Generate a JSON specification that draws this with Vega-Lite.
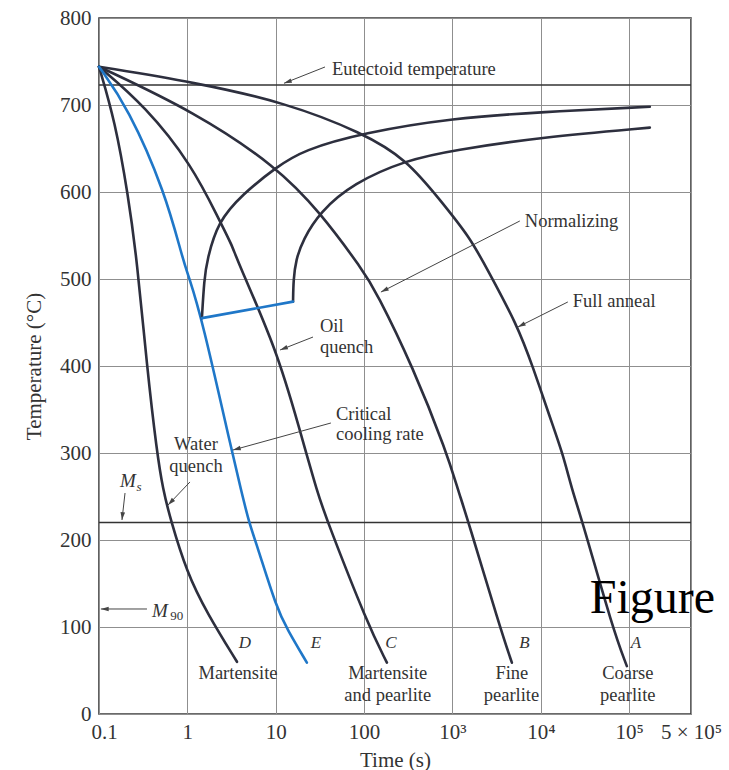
{
  "$schema": "https://vega.github.io/schema/vega-lite/v6.json",
  "width": 592,
  "height": 696,
  "autosize": {"type": "none"},
  "padding": {"left": 99, "top": 18, "right": 38, "bottom": 56},
  "background": "white",
  "config": {
    "view": {"stroke": "#3a3a3a", "strokeWidth": 1.6},
    "axis": {
      "ticks": false,
      "tickSize": 0,
      "domain": false,
      "grid": true,
      "gridColor": "#8f8f8f",
      "gridWidth": 1,
      "labelFont": "Liberation Serif",
      "labelFontSize": 21,
      "labelColor": "#333333",
      "titleFont": "Liberation Serif",
      "titleFontSize": 21,
      "titleFontWeight": "normal",
      "titleColor": "#333333"
    },
    "text": {"font": "Liberation Serif", "fill": "#333333"}
  },
  "layer": [
    {
      "description": "Eutectoid temperature and martensite start (Ms) lines",
      "data": {"values": [
        {"name": "Eutectoid", "T": 723},
        {"name": "Ms", "T": 220}
      ]},
      "mark": {"type": "rule", "color": "#333333", "strokeWidth": 1.5},
      "encoding": {
        "y": {
          "field": "T", "type": "quantitative",
          "scale": {"domain": [0, 800], "nice": false},
          "title": "Temperature (°C)",
          "axis": {
            "values": [0, 100, 200, 300, 400, 500, 600, 700, 800],
            "labelPadding": 8,
            "titleX": -65,
            "titleY": 348,
            "titleAngle": 270,
            "titleBaseline": "middle"
          }
        }
      }
    },
    {
      "description": "Cooling curves A-E",
      "data": {"values": [
        {"curve": "A", "t": 0.1, "T": 744},
        {"curve": "A", "t": 1.22, "T": 726},
        {"curve": "A", "t": 12.7, "T": 703},
        {"curve": "A", "t": 96.9, "T": 668},
        {"curve": "A", "t": 305, "T": 637},
        {"curve": "A", "t": 720, "T": 591},
        {"curve": "A", "t": 1574, "T": 548},
        {"curve": "A", "t": 2512, "T": 510},
        {"curve": "A", "t": 5354, "T": 448},
        {"curve": "A", "t": 8128, "T": 399},
        {"curve": "A", "t": 12650, "T": 341},
        {"curve": "A", "t": 17750, "T": 299},
        {"curve": "A", "t": 22440, "T": 258},
        {"curve": "A", "t": 29850, "T": 220},
        {"curve": "A", "t": 65200, "T": 98},
        {"curve": "A", "t": 93970, "T": 55},

        {"curve": "B", "t": 0.1, "T": 744},
        {"curve": "B", "t": 1.22, "T": 692},
        {"curve": "B", "t": 10.3, "T": 629},
        {"curve": "B", "t": 31.6, "T": 577},
        {"curve": "B", "t": 96.9, "T": 510},
        {"curve": "B", "t": 136, "T": 486},
        {"curve": "B", "t": 357, "T": 399},
        {"curve": "B", "t": 865, "T": 300},
        {"curve": "B", "t": 1151, "T": 258},
        {"curve": "B", "t": 1493, "T": 223},
        {"curve": "B", "t": 3436, "T": 100},
        {"curve": "B", "t": 4699, "T": 59},

        {"curve": "C", "t": 0.1, "T": 744},
        {"curve": "C", "t": 0.331, "T": 699},
        {"curve": "C", "t": 1.13, "T": 631},
        {"curve": "C", "t": 2.34, "T": 566},
        {"curve": "C", "t": 3.2, "T": 539},
        {"curve": "C", "t": 3.64, "T": 522},
        {"curve": "C", "t": 10.3, "T": 418},
        {"curve": "C", "t": 18.3, "T": 330},
        {"curve": "C", "t": 30, "T": 252},
        {"curve": "C", "t": 38.9, "T": 220},
        {"curve": "C", "t": 108, "T": 105},
        {"curve": "C", "t": 181, "T": 59},

        {"curve": "D", "t": 0.1, "T": 744},
        {"curve": "D", "t": 0.152, "T": 681},
        {"curve": "D", "t": 0.213, "T": 597},
        {"curve": "D", "t": 0.269, "T": 522},
        {"curve": "D", "t": 0.349, "T": 399},
        {"curve": "D", "t": 0.453, "T": 300},
        {"curve": "D", "t": 0.53, "T": 258},
        {"curve": "D", "t": 0.635, "T": 226},
        {"curve": "D", "t": 0.99, "T": 162},
        {"curve": "D", "t": 1.67, "T": 116},
        {"curve": "D", "t": 3.64, "T": 60},

        {"curve": "E", "t": 0.1, "T": 744},
        {"curve": "E", "t": 0.213, "T": 697},
        {"curve": "E", "t": 0.559, "T": 600},
        {"curve": "E", "t": 0.891, "T": 522},
        {"curve": "E", "t": 1.02, "T": 505},
        {"curve": "E", "t": 1.46, "T": 455},
        {"curve": "E", "t": 3.2, "T": 301},
        {"curve": "E", "t": 4.04, "T": 258},
        {"curve": "E", "t": 4.98, "T": 220},
        {"curve": "E", "t": 6.13, "T": 194},
        {"curve": "E", "t": 10.3, "T": 121},
        {"curve": "E", "t": 13.4, "T": 98},
        {"curve": "E", "t": 22.5, "T": 59}
      ]},
      "mark": {"type": "line", "strokeWidth": 2.6, "interpolate": "basis", "strokeCap": "round"},
      "encoding": {
        "x": {
          "field": "t", "type": "quantitative",
          "scale": {"type": "log", "domain": [0.1, 500000], "nice": false},
          "title": "Time (s)",
          "axis": {
            "values": [0.1, 1, 10, 100, 1000, 10000, 100000, 500000],
            "labelExpr": "datum.value == 0.1 ? '0.1' : datum.value == 1 ? '1' : datum.value == 10 ? '10' : datum.value == 100 ? '100' : datum.value == 1000 ? '10³' : datum.value == 10000 ? '10⁴' : datum.value == 100000 ? '10⁵' : '5 × 10⁵'",
            "labelFlush": false,
            "labelOverlap": false,
            "labelBaseline": "alphabetic",
            "labelPadding": 24,
            "labelOffset": {"condition": {"test": "datum.value < 0.5", "value": 5}, "value": 0},
            "titleBaseline": "alphabetic",
            "titleY": 52
          }
        },
        "y": {"field": "T", "type": "quantitative", "title": "Temperature (°C)"},
        "color": {
          "field": "curve", "type": "nominal", "legend": null,
          "scale": {
            "domain": ["A", "B", "C", "D", "E", "Ps", "Pf", "Nose"],
            "range": ["#2d2f3e", "#2d2f3e", "#2d2f3e", "#2d2f3e", "#1f77c8", "#2d2f3e", "#2d2f3e", "#1f77c8"]
          }
        }
      }
    },
    {
      "description": "Pearlite start / finish boundaries and the nose segment joining them",
      "data": {"values": [
        {"curve": "Ps", "t": 1.46, "T": 455},
        {"curve": "Ps", "t": 1.55, "T": 499},
        {"curve": "Ps", "t": 1.67, "T": 522},
        {"curve": "Ps", "t": 2.22, "T": 566},
        {"curve": "Ps", "t": 4.15, "T": 597},
        {"curve": "Ps", "t": 10.3, "T": 629},
        {"curve": "Ps", "t": 20.3, "T": 648},
        {"curve": "Ps", "t": 96.9, "T": 668},
        {"curve": "Ps", "t": 1011, "T": 685},
        {"curve": "Ps", "t": 10260, "T": 692},
        {"curve": "Ps", "t": 171000, "T": 698},

        {"curve": "Pf", "t": 15.7, "T": 474},
        {"curve": "Pf", "t": 15.85, "T": 499},
        {"curve": "Pf", "t": 16.9, "T": 522},
        {"curve": "Pf", "t": 20.3, "T": 545},
        {"curve": "Pf", "t": 31.6, "T": 577},
        {"curve": "Pf", "t": 74.7, "T": 610},
        {"curve": "Pf", "t": 305, "T": 637},
        {"curve": "Pf", "t": 1011, "T": 648},
        {"curve": "Pf", "t": 10260, "T": 663},
        {"curve": "Pf", "t": 171000, "T": 674},

        {"curve": "Nose", "t": 1.46, "T": 455},
        {"curve": "Nose", "t": 15.7, "T": 474}
      ]},
      "mark": {"type": "line", "strokeWidth": 2.6, "interpolate": "basis", "strokeCap": "round"},
      "encoding": {
        "x": {"field": "t", "type": "quantitative", "title": "Time (s)"},
        "y": {"field": "T", "type": "quantitative", "title": "Temperature (°C)"},
        "color": {"field": "curve", "type": "nominal", "legend": null}
      }
    },
    {
      "description": "Leader lines from the notes to the curves",
      "data": {"name": "leaders", "values": [
        {"note": "Eutectoid temperature", "t": 36.1, "T": 743.7, "t2": 12.4, "T2": 725, "heading": 250},
        {"note": "Normalizing", "t": 5780, "T": 566.7, "t2": 155, "T2": 485, "heading": 243},
        {"note": "Full anneal", "t": 20200, "T": 473.6, "t2": 5495, "T2": 444.8, "heading": 243},
        {"note": "Oil quench", "t": 26.4, "T": 433.3, "t2": 11.2, "T2": 418.4, "heading": 248.5},
        {"note": "Critical cooling rate", "t": 42.1, "T": 334.5, "t2": 3.28, "T2": 303.4, "heading": 254.6},
        {"note": "Water quench", "t": 1.07, "T": 266.7, "t2": 0.604, "T2": 240.2, "heading": 224},
        {"note": "Ms", "t": 0.197, "T": 254, "t2": 0.182, "T2": 223, "heading": 186},
        {"note": "M90", "t": 0.349, "T": 120.7, "t2": 0.105, "T2": 120.7, "heading": 270}
      ]},
      "mark": {"type": "rule", "color": "#444444", "strokeWidth": 1},
      "encoding": {
        "x": {"field": "t", "type": "quantitative", "title": "Time (s)"},
        "y": {"field": "T", "type": "quantitative", "title": "Temperature (°C)"},
        "x2": {"field": "t2"},
        "y2": {"field": "T2"}
      }
    },
    {
      "description": "Arrowheads at the curve end of each leader",
      "data": {"name": "leaders"},
      "mark": {"type": "point", "shape": "M0,0L-0.38,1.3L0.38,1.3Z", "filled": true, "color": "#444444", "opacity": 1, "size": 144},
      "encoding": {
        "x": {"field": "t2", "type": "quantitative", "title": "Time (s)"},
        "y": {"field": "T2", "type": "quantitative", "title": "Temperature (°C)"},
        "angle": {"field": "heading", "type": "quantitative", "scale": null}
      }
    },
    {
      "description": "Left-aligned notes",
      "data": {"values": [
        {"label": "Eutectoid temperature", "t": 43.2, "T": 734.5},
        {"label": "Normalizing", "t": 6590, "T": 559.8},
        {"label": "Full anneal", "t": 23000, "T": 467.8},
        {"label": "Oil", "t": 31.6, "T": 439.1},
        {"label": "quench", "t": 31.6, "T": 414.9},
        {"label": "Critical", "t": 48, "T": 337.9},
        {"label": "cooling rate", "t": 48, "T": 314.9}
      ]},
      "mark": {"type": "text", "align": "left", "baseline": "alphabetic", "fontSize": 18.5},
      "encoding": {
        "x": {"field": "t", "type": "quantitative", "title": "Time (s)"},
        "y": {"field": "T", "type": "quantitative", "title": "Temperature (°C)"},
        "text": {"field": "label"}
      }
    },
    {
      "description": "Centred notes and product names under the curves",
      "data": {"values": [
        {"label": "Water", "t": 1.25, "T": 303.4},
        {"label": "quench", "t": 1.25, "T": 278.2},
        {"label": "Martensite", "t": 3.74, "T": 40.2},
        {"label": "Martensite", "t": 185, "T": 40.2},
        {"label": "and pearlite", "t": 185, "T": 15.5},
        {"label": "Fine", "t": 4700, "T": 40.2},
        {"label": "pearlite", "t": 4650, "T": 15.5},
        {"label": "Coarse", "t": 96400, "T": 40.2},
        {"label": "pearlite", "t": 96400, "T": 15.5}
      ]},
      "mark": {"type": "text", "align": "center", "baseline": "alphabetic", "fontSize": 18.5},
      "encoding": {
        "x": {"field": "t", "type": "quantitative", "title": "Time (s)"},
        "y": {"field": "T", "type": "quantitative", "title": "Temperature (°C)"},
        "text": {"field": "label"}
      }
    },
    {
      "description": "Curve letters",
      "data": {"values": [
        {"label": "D", "t": 4.48, "T": 75.9},
        {"label": "E", "t": 28.5, "T": 75.9},
        {"label": "C", "t": 201, "T": 75.9},
        {"label": "B", "t": 6500, "T": 75.9},
        {"label": "A", "t": 118800, "T": 75.9}
      ]},
      "mark": {"type": "text", "align": "center", "baseline": "alphabetic", "fontSize": 17, "fontStyle": "italic"},
      "encoding": {
        "x": {"field": "t", "type": "quantitative", "title": "Time (s)"},
        "y": {"field": "T", "type": "quantitative", "title": "Temperature (°C)"},
        "text": {"field": "label"}
      }
    },
    {
      "description": "M of the Ms and M90 symbols",
      "data": {"values": [
        {"label": "M", "t": 0.173, "T": 260.9},
        {"label": "M", "t": 0.398, "T": 111.5}
      ]},
      "mark": {"type": "text", "align": "left", "baseline": "alphabetic", "fontSize": 19, "fontStyle": "italic"},
      "encoding": {
        "x": {"field": "t", "type": "quantitative", "title": "Time (s)"},
        "y": {"field": "T", "type": "quantitative", "title": "Temperature (°C)"},
        "text": {"field": "label"}
      }
    },
    {
      "description": "Subscript s of Ms",
      "data": {"values": [{"label": "s", "t": 0.265, "T": 256.3}]},
      "mark": {"type": "text", "align": "left", "baseline": "alphabetic", "fontSize": 13, "fontStyle": "italic"},
      "encoding": {
        "x": {"field": "t", "type": "quantitative", "title": "Time (s)"},
        "y": {"field": "T", "type": "quantitative", "title": "Temperature (°C)"},
        "text": {"field": "label"}
      }
    },
    {
      "description": "Subscript 90 of M90",
      "data": {"values": [{"label": "90", "t": 0.64, "T": 108}]},
      "mark": {"type": "text", "align": "left", "baseline": "alphabetic", "fontSize": 13},
      "encoding": {
        "x": {"field": "t", "type": "quantitative", "title": "Time (s)"},
        "y": {"field": "T", "type": "quantitative", "title": "Temperature (°C)"},
        "text": {"field": "label"}
      }
    },
    {
      "description": "Figure caption word",
      "data": {"values": [{"label": "Figure", "t": 35800, "T": 116.1}]},
      "mark": {"type": "text", "align": "left", "baseline": "alphabetic", "fontSize": 48, "fill": "#000000"},
      "encoding": {
        "x": {"field": "t", "type": "quantitative", "title": "Time (s)"},
        "y": {"field": "T", "type": "quantitative", "title": "Temperature (°C)"},
        "text": {"field": "label"}
      }
    }
  ]
}
